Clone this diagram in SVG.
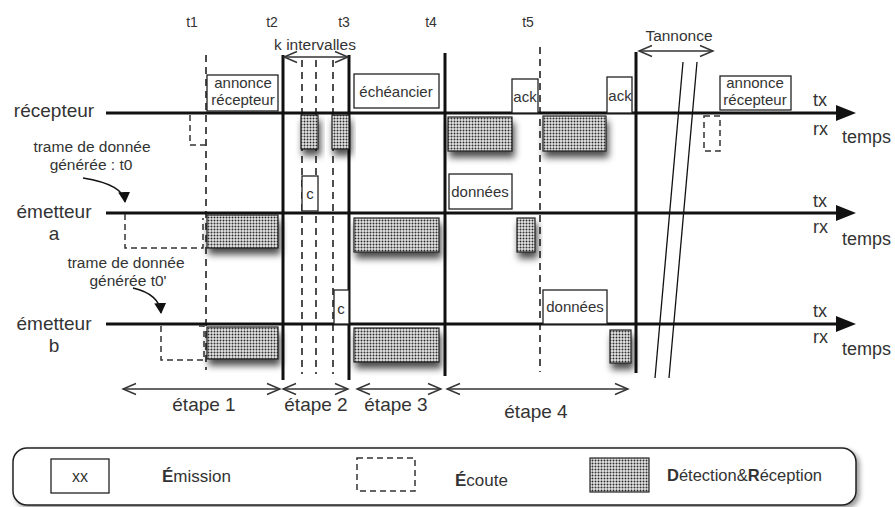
<svg xmlns="http://www.w3.org/2000/svg" width="895" height="507" viewBox="0 0 895 507">
  <defs>
    <pattern id="dots" width="3" height="3" patternUnits="userSpaceOnUse">
      <rect width="3" height="3" fill="#e6e6e6"/>
      <circle cx="1.5" cy="1.5" r="1" fill="#2e2e2e"/>
    </pattern>
    <filter id="shadow" x="-30%" y="-30%" width="170%" height="190%">
      <feDropShadow dx="2" dy="6" stdDeviation="3.5" flood-color="#000" flood-opacity="0.7"/>
    </filter>
    <filter id="lshadow" x="-5%" y="-30%" width="110%" height="170%">
      <feDropShadow dx="3" dy="3" stdDeviation="2.5" flood-color="#000" flood-opacity="0.4"/>
    </filter>
    <marker id="tlarrow" markerUnits="userSpaceOnUse" markerWidth="22" markerHeight="16" refX="2" refY="8" orient="auto">
      <path d="M0,0 L20,8 L0,16 Z" fill="#111"/>
    </marker>
    <marker id="open" markerUnits="userSpaceOnUse" markerWidth="16" markerHeight="14" refX="14" refY="7" orient="auto-start-reverse">
      <path d="M1,1.5 L14,7 L1,12.5" fill="none" stroke="#333" stroke-width="1.4"/>
    </marker>
    <marker id="solidhead" markerUnits="userSpaceOnUse" markerWidth="12" markerHeight="14" refX="10" refY="6" orient="auto">
      <path d="M0,0 L11,6 L0,12 Z" fill="#111"/>
    </marker>
  </defs>
  <style>
    text { font-family: "Liberation Sans", Arial, sans-serif; fill: #333; }
    .lbl { font-size: 19px; }
    .box { font-size: 15px; }
    .tick { font-size: 14px; }
    .small { font-size: 15.5px; }
    .ax { font-size: 18px; }
    .tl { stroke: #111; stroke-width: 3; fill: none; }
    .vs { stroke: #111; stroke-width: 3; fill: none; }
    .vd { stroke: #222; stroke-width: 1.6; stroke-dasharray: 7 5; fill: none; }
    .em { fill: #fff; stroke: #222; stroke-width: 1.3; }
    .ec { fill: none; stroke: #333; stroke-width: 1.5; stroke-dasharray: 6 4; }
    .det { fill: url(#dots); stroke: #222; stroke-width: 1.2; filter: url(#shadow); }
    .dbl { stroke: #333; stroke-width: 1.3; fill: none; marker-start: url(#open); marker-end: url(#open); }
    .brk { stroke: #111; stroke-width: 1.3; fill: none; }
  </style>

  <rect width="895" height="507" fill="#fff"/>

  <!-- top tick labels -->
  <g id="ticks">
    <text class="tick" x="192" y="27" text-anchor="middle">t1</text>
    <text class="tick" x="272" y="27" text-anchor="middle">t2</text>
    <text class="tick" x="344" y="27" text-anchor="middle">t3</text>
    <text class="tick" x="431" y="27" text-anchor="middle">t4</text>
    <text class="tick" x="528" y="27" text-anchor="middle">t5</text>
    <text class="small" x="315" y="50" text-anchor="middle">k intervalles</text>
    <text class="small" x="679" y="41" text-anchor="middle">Tannonce</text>
  </g>

  <!-- time markers (vertical lines) -->
  <g id="time-markers">
    <line class="vd" x1="206" y1="55" x2="206" y2="370"/>
    <line class="vs" x1="283" y1="55" x2="283" y2="380"/>
    <line class="vd" x1="302" y1="60" x2="302" y2="374"/>
    <line class="vd" x1="316" y1="60" x2="316" y2="374"/>
    <line class="vd" x1="333" y1="60" x2="333" y2="374"/>
    <line class="vs" x1="349" y1="55" x2="349" y2="380"/>
    <line class="vs" x1="445" y1="53" x2="445" y2="376"/>
    <line class="vd" x1="540" y1="47" x2="540" y2="372"/>
    <line class="vs" x1="636" y1="52" x2="636" y2="373"/>
    <line class="brk" x1="683" y1="62" x2="655" y2="378"/>
    <line class="brk" x1="697" y1="62" x2="669" y2="378"/>
  </g>

  <!-- recepteur -->
  <g id="recepteur">
    <text class="lbl" x="54" y="117" text-anchor="middle">récepteur</text>
    <line class="tl" x1="106" y1="113" x2="838" y2="113" marker-end="url(#tlarrow)"/>
    <text class="ax" x="813" y="106">tx</text>
    <text class="ax" x="813" y="135">rx</text>
    <text class="ax" x="842" y="143">temps</text>
  </g>
  <g id="rec-ecoute1"><path class="ec" d="M190,115 L190,145 L206,145"/></g>
  <g id="rec-annonce1">
    <rect class="em" x="207" y="75" width="71" height="36"/>
    <text class="box" x="243" y="88" text-anchor="middle">annonce</text>
    <text class="box" x="243" y="105" text-anchor="middle">récepteur</text>
  </g>
  <g id="rec-det1"><rect class="det" x="301" y="115" width="17" height="34"/></g>
  <g id="rec-det2"><rect class="det" x="332" y="115" width="17" height="34"/></g>
  <g id="rec-echeancier">
    <rect class="em" x="354" y="74" width="85" height="34"/>
    <text class="box" x="396" y="97" text-anchor="middle">échéancier</text>
  </g>
  <g id="rec-det3"><rect class="det" x="448" y="117" width="64" height="34"/></g>
  <g id="rec-ack1">
    <rect class="em" x="512" y="79" width="26" height="34"/>
    <text class="box" x="525" y="102" text-anchor="middle">ack</text>
  </g>
  <g id="rec-det4"><rect class="det" x="543" y="116" width="63" height="35"/></g>
  <g id="rec-ack2">
    <rect class="em" x="607" y="77" width="25" height="36"/>
    <text class="box" x="620" y="101" text-anchor="middle">ack</text>
  </g>
  <g id="rec-annonce2">
    <rect class="em" x="720" y="76" width="71" height="34"/>
    <text class="box" x="755" y="88" text-anchor="middle">annonce</text>
    <text class="box" x="755" y="105" text-anchor="middle">récepteur</text>
  </g>
  <g id="rec-ecoute2"><rect class="ec" x="704" y="116" width="16" height="35"/></g>

  <!-- emetteur a -->
  <g id="emetteur-a">
    <text class="lbl" x="54" y="218" text-anchor="middle">émetteur</text>
    <text class="lbl" x="54" y="240" text-anchor="middle">a</text>
    <line class="tl" x1="106" y1="213" x2="838" y2="213" marker-end="url(#tlarrow)"/>
    <text class="ax" x="813" y="207">tx</text>
    <text class="ax" x="813" y="233">rx</text>
    <text class="ax" x="842" y="245">temps</text>
  </g>
  <g id="a-trame">
    <text class="small" x="92" y="152" text-anchor="middle">trame de donnée</text>
    <text class="small" x="91" y="170" text-anchor="middle">générée : t0</text>
  </g>
  <g id="a-ecoute"><path class="ec" d="M125,214 L125,248 L203,248 L203,218"/></g>
  <g id="a-det1"><rect class="det" x="207" y="215" width="71" height="33"/></g>
  <g id="a-c">
    <rect class="em" x="302" y="176" width="16" height="35"/>
    <text class="box" x="310" y="199" text-anchor="middle">c</text>
  </g>
  <g id="a-det2"><rect class="det" x="354" y="218" width="85" height="34"/></g>
  <g id="a-donnees">
    <rect class="em" x="449" y="174" width="63" height="35"/>
    <text class="box" x="480" y="197" text-anchor="middle">données</text>
  </g>
  <g id="a-det3"><rect class="det" x="517" y="218" width="18" height="34"/></g>

  <!-- emetteur b -->
  <g id="emetteur-b">
    <text class="lbl" x="54" y="330" text-anchor="middle">émetteur</text>
    <text class="lbl" x="54" y="352" text-anchor="middle">b</text>
    <line class="tl" x1="106" y1="324" x2="838" y2="324" marker-end="url(#tlarrow)"/>
    <text class="ax" x="813" y="317">tx</text>
    <text class="ax" x="813" y="343">rx</text>
    <text class="ax" x="842" y="355">temps</text>
  </g>
  <g id="b-trame">
    <text class="small" x="126" y="268" text-anchor="middle">trame de donnée</text>
    <text class="small" x="128" y="286" text-anchor="middle">générée t0'</text>
  </g>
  <g id="b-ecoute"><path class="ec" d="M161,326 L161,360 L204,360 L204,326 L195,326"/></g>
  <g id="b-det1"><rect class="det" x="207" y="327" width="71" height="32"/></g>
  <g id="b-c">
    <rect class="em" x="334" y="290" width="15" height="34"/>
    <text class="box" x="341" y="314" text-anchor="middle">c</text>
  </g>
  <g id="b-det2"><rect class="det" x="354" y="328" width="85" height="34"/></g>
  <g id="b-donnees">
    <rect class="em" x="543" y="290" width="64" height="34"/>
    <text class="box" x="575" y="312" text-anchor="middle">données</text>
  </g>
  <g id="b-det3"><rect class="det" x="610" y="330" width="21" height="33"/></g>

  <!-- connectors -->
  <g id="connectors">
    <path d="M83,178 C108,182 124,190 125,202" fill="none" stroke="#111" stroke-width="1.5" marker-end="url(#solidhead)"/>
    <path d="M133,288 C150,292 160,300 161,313" fill="none" stroke="#111" stroke-width="1.5" marker-end="url(#solidhead)"/>
    <line class="dbl" x1="284" y1="57" x2="348" y2="57"/>
    <line class="dbl" x1="639" y1="51" x2="713" y2="51"/>
    <line class="dbl" x1="123" y1="389" x2="280" y2="389"/>
    <line class="dbl" x1="283" y1="389" x2="348" y2="389"/>
    <line class="dbl" x1="357" y1="389" x2="441" y2="389"/>
    <line class="dbl" x1="447" y1="389" x2="628" y2="389"/>
  </g>

  <g id="etapes">
    <text class="lbl" x="204" y="411" text-anchor="middle">étape 1</text>
    <text class="lbl" x="316" y="411" text-anchor="middle">étape 2</text>
    <text class="lbl" x="396" y="411" text-anchor="middle">étape 3</text>
    <text class="lbl" x="536" y="418" text-anchor="middle">étape 4</text>
  </g>

  <!-- legend -->
  <g id="legend">
    <rect x="13" y="448" width="843" height="57" rx="14" fill="#fff" stroke="#222" stroke-width="1.5" filter="url(#lshadow)"/>
    <rect class="em" x="51" y="459" width="58" height="34"/>
    <text x="80" y="482" text-anchor="middle" font-size="16">xx</text>
    <text x="162" y="482" font-size="17"><tspan font-weight="bold">É</tspan>mission</text>
    <rect class="ec" x="357" y="458" width="58" height="33"/>
    <text x="455" y="486" font-size="17"><tspan font-weight="bold">É</tspan>coute</text>
    <rect x="590" y="458" width="59" height="34" fill="url(#dots)" stroke="#222" stroke-width="1.2"/>
    <text x="667" y="481" font-size="16.5"><tspan font-weight="bold">D</tspan>étection&amp;<tspan font-weight="bold">R</tspan>éception</text>
  </g>
</svg>
